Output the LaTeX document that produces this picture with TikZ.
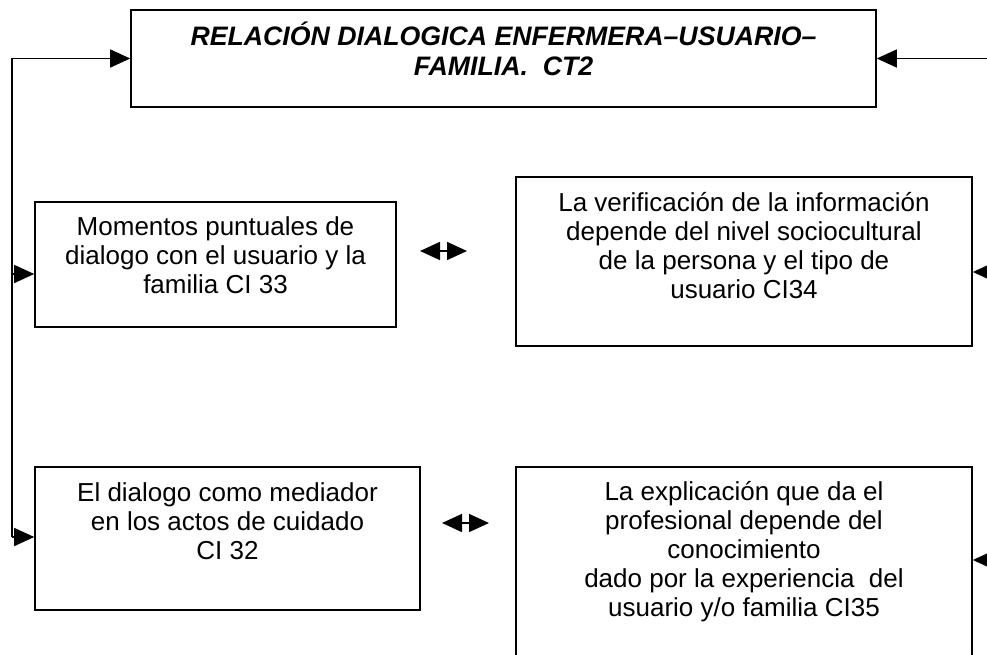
\documentclass[tikz,border=0pt]{standalone}
\usepackage{fontspec}
\setmainfont{Liberation Sans}
\usetikzlibrary{shapes,arrows.meta}
\newcommand{\boxfont}{\fontsize{26}{29}\selectfont}
\newcommand{\titlefont}{\fontsize{26.7}{29.5}\selectfont\bfseries\itshape}

\begin{document}
\begin{tikzpicture}[x=1pt,y=-1pt]
    \tikzstyle{box}=[rectangle,draw,line width=1.6pt,inner sep=0pt]
    \tikzstyle{txt}=[align=center,anchor=north,inner sep=0pt,font=\boxfont]
    \tikzstyle{conn}=[line width=1.5pt,-{Triangle[length=20pt,width=18pt]}]
    \tikzstyle{both}=[line width=1.5pt,{Triangle[length=20pt,width=18pt]}-{Triangle[length=20pt,width=18pt]}]

    \useasboundingbox (0,0) rectangle (987,655);

    \node(title) [box,minimum width=745pt,minimum height=97pt] at (503.5,58.5) {};
    \node(ttitle) [txt,font=\titlefont] at ([yshift=-13pt]title.north)
        {RELACIÓN DIALOGICA ENFERMERA–USUARIO–\\FAMILIA.~~CT2};

    \node(ci33) [box,minimum width=361pt,minimum height=125pt] at (215.5,264.5) {};
    \node(t33) [txt] at ([yshift=-15pt]ci33.north)
        {Momentos puntuales de\\dialogo con el usuario y la\\familia CI 33};

    \node(ci34) [box,minimum width=456pt,minimum height=169pt] at (744,261.5) {};
    \node(t34) [txt] at ([yshift=-16pt]ci34.north)
        {La verificación de la información\\depende del nivel sociocultural\\de la persona y el tipo de\\usuario CI34};

    \node(ci32) [box,minimum width=385pt,minimum height=143pt] at (227.5,538.5) {};
    \node(t32) [txt] at ([yshift=-16pt]ci32.north)
        {El dialogo como mediador\\en los actos de cuidado\\CI 32};

    \node(ci35) [box,minimum width=456pt,minimum height=233pt] at (744,583.5) {};
    \node(t35) [txt] at ([yshift=-15pt]ci35.north)
        {La explicación que da el\\profesional depende del\\conocimiento\\dado por la experiencia~~del\\usuario y/o familia CI35};

    \coordinate(lt) at (12,58.5);
    \coordinate(l33) at (12,274);
    \coordinate(lb) at (12,537);
    \coordinate(rt) at (996,58.5);
    \coordinate(r34) at (996,272);
    \coordinate(rb) at (996,560);

    \draw [line width=1.5pt] (lt) -- (lb);
    \draw [line width=1.5pt] (rt) -- (rb);
    \draw [conn] (lt) -- (title.west);
    \draw [conn] (l33) -- (l33 -| ci33.west);
    \draw [conn] (lb) -- (lb -| ci32.west);
    \draw [conn] (rt) -- (title.east);
    \draw [conn] (r34) -- (r34 -| ci34.east);
    \draw [conn] (rb) -- (rb -| ci35.east);

    \coordinate(u1) at (420,251);
    \coordinate(u2) at (467,251);
    \coordinate(d1) at (442,523);
    \coordinate(d2) at (489,523);
    \draw [both] (u1) -- (u2);
    \draw [both] (d1) -- (d2);

\end{tikzpicture}
\end{document}
